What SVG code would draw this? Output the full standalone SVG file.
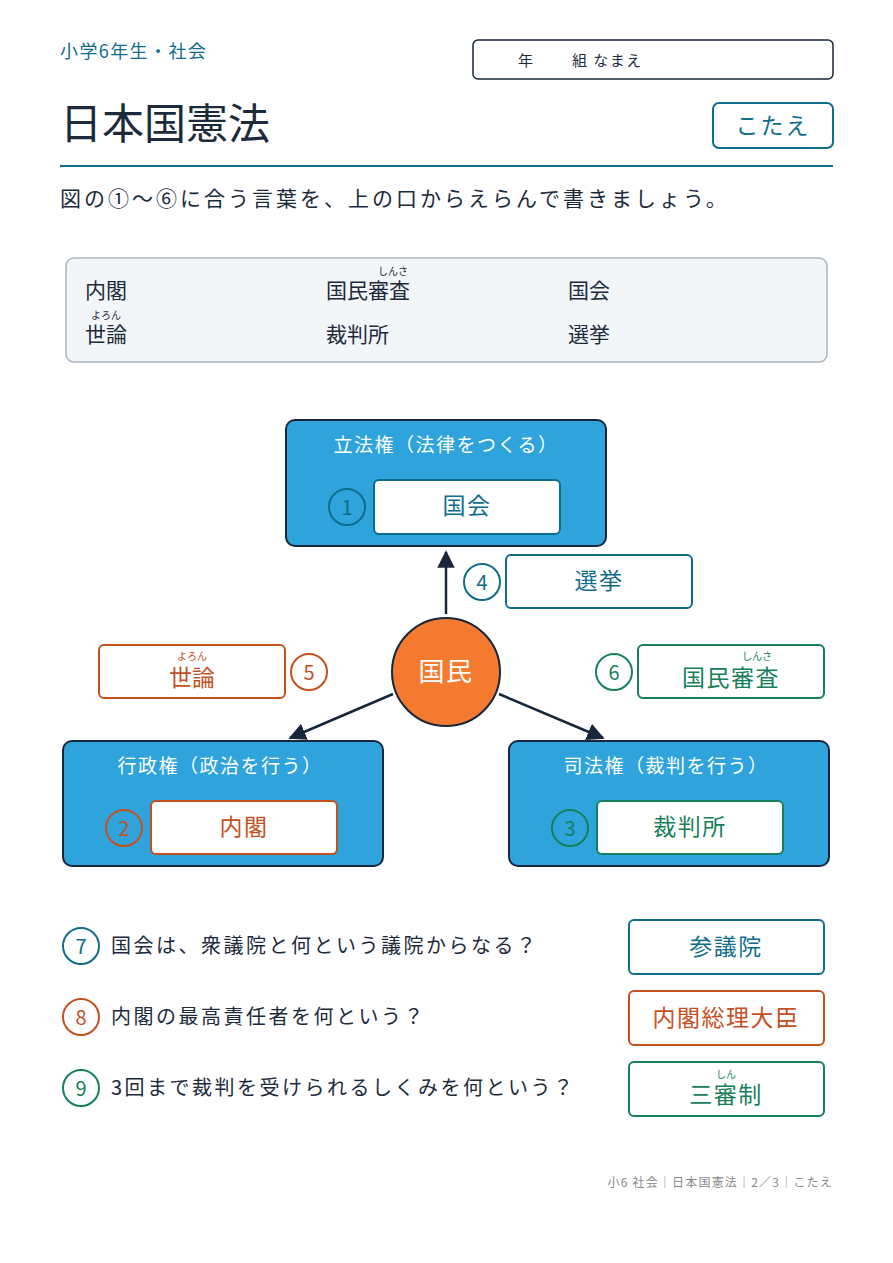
<svg xmlns="http://www.w3.org/2000/svg" width="893" height="1263" viewBox="0 0 893 1263">
<style>
text{font-family:"Noto Sans CJK JP","Noto Sans",sans-serif;}
.t{fill:#0f6d8c}.o{fill:#c5501f}.g{fill:#15805a}.d{fill:#1c2b3c}.w{fill:#fff}
.blue{fill:#2fa3dc;stroke:#17263a;stroke-width:2}
.ans{fill:#fff;stroke-width:2}
.ct{stroke:#0f6d8c}.co{stroke:#c5501f}.cg{stroke:#15805a}
.num{fill:none;stroke-width:2}
.q{letter-spacing:2.5px}
.b{letter-spacing:1.5px}
</style>
<defs><marker id="ar" viewBox="0 0 10 10" refX="9" refY="5" markerWidth="7" markerHeight="7" orient="auto"><path d="M0,0L10,5L0,10z" fill="#17263a"/></marker></defs>
<rect width="893" height="1263" fill="#fff"/>
<text x="60" y="58" font-size="18" class="t" letter-spacing="1.4">小学6年生・社会</text>
<rect x="473" y="40" width="360" height="39" rx="5" fill="#fff" stroke="#17263a" stroke-width="1.5"/>
<text x="518" y="66" font-size="15" class="d">年</text><text x="572" y="66" font-size="15" class="d" letter-spacing="1.5">組 なまえ</text>
<text x="60" y="139" font-size="42" class="d">日本国憲法</text>
<rect x="713" y="103" width="120" height="45" rx="6" fill="#fff" stroke="#0f6d8c" stroke-width="2"/>
<text x="773" y="134" font-size="23" class="t" text-anchor="middle" letter-spacing="2">こたえ</text>
<line x1="60" y1="166" x2="833" y2="166" stroke="#0f6d8c" stroke-width="2"/>
<text x="60" y="206" font-size="21" class="d" letter-spacing="3">図の①〜⑥に合う言葉を、上の口からえらんで書きましょう。</text>
<rect x="66" y="258" width="761" height="104" rx="8" fill="#f3f6f9" stroke="#aab4bd" stroke-width="1.5"/>
<g font-size="21">
<text x="85" y="298" class="d">内閣</text><text x="326" y="298" class="d">国民審査</text><text x="568" y="298" class="d">国会</text>
<text x="85" y="342" class="d">世論</text><text x="326" y="342" class="d">裁判所</text><text x="568" y="342" class="d">選挙</text>
</g>
<text x="393" y="275" font-size="10" class="d" text-anchor="middle">しんさ</text>
<text x="106" y="319" font-size="10" class="d" text-anchor="middle">よろん</text>
<g id="connectors" stroke="#17263a" stroke-width="2.5" fill="none" marker-end="url(#ar)">
<line x1="446" y1="614" x2="446" y2="552"/>
<line x1="393" y1="694" x2="290" y2="738"/>
<line x1="499" y1="694" x2="603" y2="738"/>
</g>
<g id="node-kokkai">
<rect x="286" y="420" width="320" height="126" rx="9" class="blue"/>
<text x="446" y="452" font-size="19" class="w b" text-anchor="middle">立法権（法律をつくる）</text>
<circle cx="347" cy="507" r="18" class="num ct"/><text x="347" y="515" font-size="20" class="t" text-anchor="middle">1</text>
<rect x="374" y="480" width="186" height="54" rx="5" class="ans ct"/>
<text x="467" y="514" font-size="23" class="t b" text-anchor="middle">国会</text>
</g>
<g id="node-senkyo">
<circle cx="482" cy="582" r="18" class="num ct"/><text x="482" y="590" font-size="20" class="t" text-anchor="middle">4</text>
<rect x="506" y="555" width="186" height="53" rx="5" class="ans ct"/>
<text x="599" y="589" font-size="23" class="t b" text-anchor="middle">選挙</text>
</g>
<g id="node-kokumin">
<circle cx="446" cy="672" r="54" fill="#f47a2f" stroke="#17263a" stroke-width="2"/>
<text x="446" y="681" font-size="26" class="w b" text-anchor="middle">国民</text>
</g>
<g id="node-yoron">
<rect x="99" y="645" width="186" height="53" rx="5" class="ans co"/>
<text x="192" y="686" font-size="23" class="o" text-anchor="middle">世論</text>
<text x="192" y="660" font-size="10" class="o" text-anchor="middle">よろん</text>
<circle cx="309" cy="672" r="18" class="num co"/><text x="309" y="680" font-size="20" class="o" text-anchor="middle">5</text>
</g>
<g id="node-shinsa">
<circle cx="614" cy="672" r="18" class="num cg"/><text x="614" y="680" font-size="20" class="g" text-anchor="middle">6</text>
<rect x="638" y="645" width="186" height="53" rx="5" class="ans cg"/>
<text x="731" y="686" font-size="23" class="g b" text-anchor="middle">国民審査</text>
<text x="757" y="660" font-size="10" class="g" text-anchor="middle">しんさ</text>
</g>
<g id="node-naikaku">
<rect x="63" y="741" width="320" height="125" rx="9" class="blue"/>
<text x="220" y="773" font-size="19" class="w b" text-anchor="middle">行政権（政治を行う）</text>
<circle cx="124" cy="828" r="18" class="num co"/><text x="124" y="836" font-size="20" class="o" text-anchor="middle">2</text>
<rect x="151" y="801" width="186" height="53" rx="5" class="ans co"/>
<text x="244" y="835" font-size="23" class="o b" text-anchor="middle">内閣</text>
</g>
<g id="node-saibansho">
<rect x="509" y="741" width="320" height="125" rx="9" class="blue"/>
<text x="666" y="773" font-size="19" class="w b" text-anchor="middle">司法権（裁判を行う）</text>
<circle cx="570" cy="828" r="18" class="num cg"/><text x="570" y="836" font-size="20" class="g" text-anchor="middle">3</text>
<rect x="597" y="801" width="186" height="53" rx="5" class="ans cg"/>
<text x="690" y="835" font-size="23" class="g b" text-anchor="middle">裁判所</text>
</g>
<g id="q7">
<circle cx="81" cy="946" r="18" class="num ct"/><text x="81" y="954" font-size="20" class="t" text-anchor="middle">7</text>
<text x="111" y="953" font-size="20" class="d q">国会は、衆議院と何という議院からなる？</text>
<rect x="629" y="920" width="195" height="54" rx="5" class="ans ct"/>
<text x="726" y="955" font-size="23" class="t b" text-anchor="middle">参議院</text>
</g>
<g id="q8">
<circle cx="81" cy="1017" r="18" class="num co"/><text x="81" y="1025" font-size="20" class="o" text-anchor="middle">8</text>
<text x="111" y="1024" font-size="20" class="d q">内閣の最高責任者を何という？</text>
<rect x="629" y="991" width="195" height="54" rx="5" class="ans co"/>
<text x="726" y="1026" font-size="23" class="o b" text-anchor="middle">内閣総理大臣</text>
</g>
<g id="q9">
<circle cx="81" cy="1088" r="18" class="num cg"/><text x="81" y="1096" font-size="20" class="g" text-anchor="middle">9</text>
<text x="111" y="1095" font-size="20" class="d q">3回まで裁判を受けられるしくみを何という？</text>
<rect x="629" y="1062" width="195" height="54" rx="5" class="ans cg"/>
<text x="726" y="1103" font-size="23" class="g b" text-anchor="middle">三審制</text>
<text x="726" y="1078" font-size="10" class="g" text-anchor="middle">しん</text>
</g>
<text x="833" y="1187" font-size="12" fill="#888" text-anchor="end" letter-spacing="1.2">小6 社会｜日本国憲法｜2／3｜こたえ</text>
</svg>
